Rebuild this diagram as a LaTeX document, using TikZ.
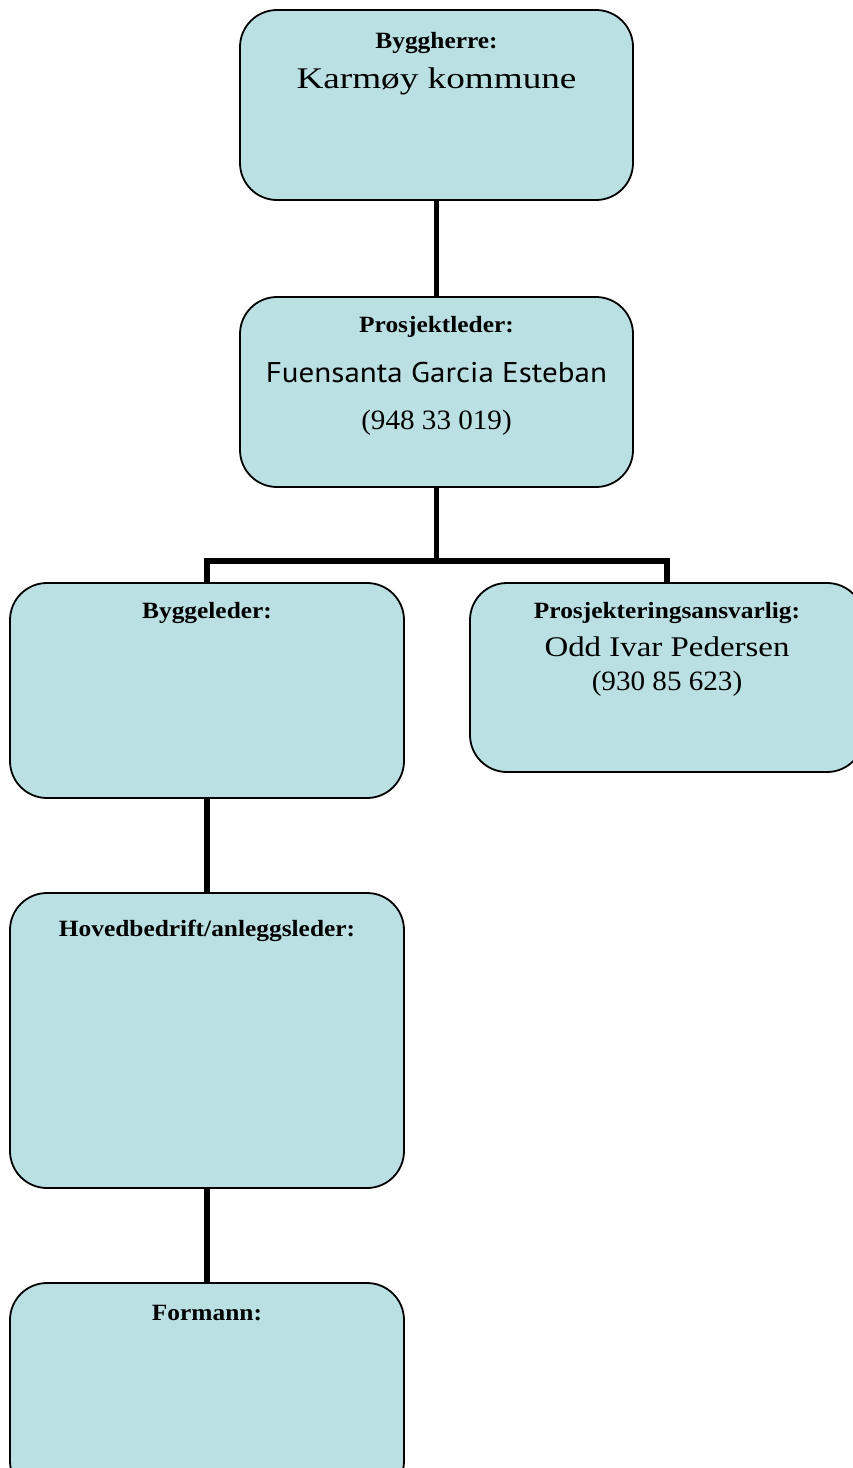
\documentclass[tikz,border=0pt]{standalone}
\usepackage{fontspec}
\setmainfont{Liberation Serif}
\newfontfamily\ttlfont[FakeStretch=1.09]{Liberation Serif}
\newfontfamily\nmfont[FakeStretch=1.155]{Liberation Serif}
\newfontfamily\kfont[FakeStretch=1.24]{Liberation Serif}
\newfontfamily\numfont[FakeStretch=1.04]{Liberation Serif}
\newfontfamily\sfname[FakeStretch=1.09]{PT Sans}
\definecolor{boxfill}{RGB}{187,224,227}
\tikzset{
  box/.style={draw=black, line width=1.8pt, fill=boxfill, rounded corners=37pt, inner sep=0pt},
  conn/.style={draw=black, line width=5.5pt},
  lbl/.style={anchor=base, inner sep=0pt, text=black},
  ttl/.style={lbl, font=\fontsize{23.3}{28}\ttlfont\bfseries},
  nm/.style={lbl, font=\fontsize{28.5}{34}\nmfont},
  kn/.style={lbl, font=\fontsize{30}{36}\kfont},
  num/.style={lbl, font=\fontsize{28}{33}\numfont},
  nmsf/.style={lbl, font=\fontsize{28.5}{34}\sfname},
}
\begin{document}
\begin{tikzpicture}[x=1pt,y=-1pt]
\clip (0,0) rectangle (853,1468);
\fill[white] (0,0) rectangle (853,1468);
% boxes
\node[box, minimum width=393pt, minimum height=190pt] (b1) at (436.5,105) {};
\node[box, minimum width=393pt, minimum height=190pt] (b2) at (436.5,392) {};
\node[box, minimum width=394pt, minimum height=215pt] (b3) at (207,690.5) {};
\node[box, minimum width=394pt, minimum height=189pt] (b4) at (667,677.5) {};
\node[box, minimum width=394pt, minimum height=295pt] (b5) at (207,1040.5) {};
\node[box, minimum width=394pt, minimum height=215pt] (b6) at (207,1390.5) {};
% connectors
\coordinate (j) at (436.5,561);
\draw[conn] (b1.south) -- (b2.north);
\draw[conn] (b2.south) -- (j);
\draw[conn] (b3.north) -- (b3.north |- j) -- (b4.north |- j) -- (b4.north);
\draw[conn] (b3.south) -- (b5.north);
\draw[conn] (b5.south) -- (b6.north);
% texts
\node[ttl] (t1) at (436.5,48) {Byggherre:};
\node[kn] (t1n) at (436.5,88) {Karmøy kommune};
\node[ttl] (t2) at (436.5,332) {Prosjektleder:};
\node[nmsf] (t2n) at (436.5,382) {Fuensanta Garcia Esteban};
\node[num] (t2p) at (436.5,429) {(948 33 019)};
\node[ttl] (t3) at (207,618) {Byggeleder:};
\node[ttl] (t4) at (667,618) {Prosjekteringsansvarlig:};
\node[nm] (t4n) at (667,656) {Odd Ivar Pedersen};
\node[num] (t4p) at (667,690) {(930 85 623)};
\node[ttl] (t5) at (207,936) {Hovedbedrift/anleggsleder:};
\node[ttl] (t6) at (207,1320) {Formann:};
\end{tikzpicture}
\end{document}
